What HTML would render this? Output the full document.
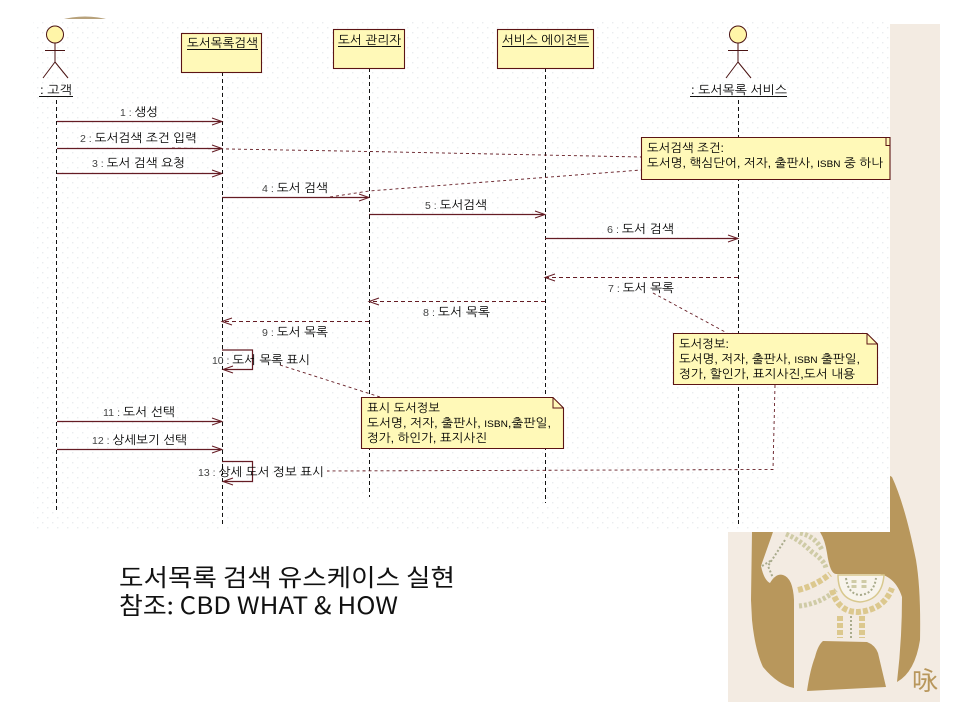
<!DOCTYPE html>
<html>
<head>
<meta charset="utf-8">
<style>
html,body{margin:0;padding:0;background:#fff;width:960px;height:720px;overflow:hidden}
svg{display:block}
text{font-family:"Liberation Sans","NanumGothic","Noto Sans CJK KR",sans-serif;fill:#000}
.l{font-size:12px}
.b{font-size:12px;fill:#000}
.n{fill:#444;font-size:10px}
.t{font-family:"Noto Sans CJK KR","Liberation Sans",sans-serif;font-size:24px;fill:#111;font-weight:400}
.life{stroke:#111;stroke-width:1;stroke-dasharray:4 3;fill:none}
.msg{stroke:#651c24;stroke-width:1.2;fill:none}
.ret{stroke:#651c24;stroke-width:1;stroke-dasharray:4 3;fill:none}
.link{stroke:#651c24;stroke-width:.9;stroke-dasharray:3 3;fill:none}
.ah{stroke:#651c24;stroke-width:1;fill:none}
.box{fill:#fff9b8;stroke:#5c1414;stroke-width:1.1}
.actor{stroke:#4a1212;stroke-width:1;fill:none}
.u{stroke:#111;stroke-width:1}
.band{fill:none;stroke:#cfcba6;stroke-width:5;stroke-dasharray:3 2}
.gold{fill:none;stroke:#dcc88e;stroke-width:6;stroke-dasharray:5 2}
.thin{fill:none;stroke:#a9ab8c;stroke-width:2;stroke-dasharray:2 2}
</style>
</head>
<body>
<svg width="960" height="720" viewBox="0 0 960 720" xmlns="http://www.w3.org/2000/svg">
<defs>
<pattern id="dots" width="10" height="10" patternUnits="userSpaceOnUse">
<rect x="2" y="2" width="1.4" height="1.4" fill="#e9ecef"/>
<rect x="7" y="7" width="1.4" height="1.4" fill="#e9ecef"/>
</pattern>
</defs>

<rect width="960" height="720" fill="#fff"/>
<!-- beige art panel -->
<rect x="728" y="24" width="212" height="678" fill="#f3ebe2"/>
<!-- brown backdrop -->
<path d="M752 532L751 600L752 620Q755 650 763 667Q778 685 794 688L897 688L897 682Q915 672 920 640Q921 590 916 560Q905 505 892 477L880 470L880 532Z" fill="#b8975c"/>
<!-- horse -->
<path d="M773 532L761 566Q764 580 770 583Q776 573 783 575Q793 578 794 600L794 702L900 702L897 682Q902 640 902 597Q896 578 880 574L836 574Q830 574 827 553Q825 540 820 532Z" fill="#f3ebe2"/>
<!-- base between the legs -->
<path d="M823 641L867 642Q875 645 878 653L886 687L807 691Q810 670 815 657Q818 645 823 641Z" fill="#b8975c"/>
<!-- decoration -->
<path class="band" d="M786 534Q800 540 812 552Q824 560 826 568"/>
<path class="band" d="M800 533Q815 536 822 550"/>
<path class="thin" d="M785 540L768 566L773 578"/>
<path class="thin" d="M762 566L772 560"/>
<path class="gold" d="M798 590Q815 586 830 574"/>
<path class="band" d="M799 606Q820 604 836 590"/>
<path class="gold" d="M832 590Q838 612 858 612Q884 610 892 588"/>
<path d="M838 575Q838 600 860 602Q882 600 884 575Z" fill="#f8f4ec" stroke="#d8c88e" stroke-width="1.500"/>
<path class="thin" d="M846 578Q848 594 860 595Q874 594 876 578"/>
<path class="band" d="M854 580V590M864 580V590"/>
<path class="gold" d="M840 616V638M862 616V638"/>
<path class="thin" d="M851 616V638"/>
<text x="912" y="690" font-size="26" style="fill:#b8975c;font-family:'Noto Sans CJK SC',sans-serif">咏</text>
<!-- brown arc at top-left -->
<path d="M60 20Q85 13 110 20Z" fill="#b8a27c"/>

<!-- diagram panel -->
<rect x="33" y="19" width="857" height="513" fill="#fff"/>
<rect x="33" y="19" width="857" height="513" fill="url(#dots)"/>

<!-- lifelines -->
<path class="life" d="M56.500 100V512"/>
<path class="life" d="M222.500 72V526"/>
<path class="life" d="M369.500 68V497"/>
<path class="life" d="M545.500 68V503"/>
<path class="life" d="M738.500 100V524"/>

<!-- objects -->
<rect class="box" x="181.500" y="33.500" width="80" height="39"/>
<rect class="box" x="333.500" y="29.500" width="71" height="39"/>
<rect class="box" x="497.500" y="29.500" width="96" height="39"/>
<text class="b" x="187" y="47" textLength="71" lengthAdjust="spacingAndGlyphs">도서목록검색</text>
<path class="u" d="M187 49.500H258"/>
<text class="b" x="338" y="44" textLength="63" lengthAdjust="spacingAndGlyphs">도서 관리자</text>
<path class="u" d="M338 46.500H401"/>
<text class="b" x="502" y="44" textLength="87" lengthAdjust="spacingAndGlyphs">서비스 에이전트</text>
<path class="u" d="M502 46.500H589"/>

<!-- actors -->
<g>
<circle cx="55" cy="34.500" r="8.500" fill="#fff5a8" stroke="#4a1212"/>
<path class="actor" d="M55 43V62M45 50.500H65M55 62L43 78M55 62L68 78"/>
<text class="b" x="40" y="94" textLength="32" lengthAdjust="spacingAndGlyphs">: 고객</text>
<path class="u" d="M39 96.500H73"/>
<circle cx="738" cy="34.500" r="8.500" fill="#fff5a8" stroke="#4a1212"/>
<path class="actor" d="M738 43V62M728 50.500H748M738 62L726 78M738 62L751 78"/>
<text class="b" x="691" y="94" textLength="96" lengthAdjust="spacingAndGlyphs">: 도서목록 서비스</text>
<path class="u" d="M690 96.500H787"/>
</g>

<!-- note links -->
<path class="link" d="M172 148L370 151.500L641 157"/>
<path class="link" d="M330 197L369 191L641 170"/>
<path class="link" d="M280 365L380 397"/>
<path class="link" d="M653 293L727 333"/>
<path class="link" d="M775 385L773 469.500L327 471"/>

<!-- messages -->
<path class="msg" d="M57 121.500H221"/><path class="ah" d="M212 118L222 121.500L212 125"/>
<path class="msg" d="M57 148.500H221"/><path class="ah" d="M212 145L222 148.500L212 152"/>
<path class="msg" d="M57 173.500H221"/><path class="ah" d="M212 170L222 173.500L212 177"/>
<path class="msg" d="M222 197.500H368"/><path class="ah" d="M359 194L369 197.500L359 201"/>
<path class="msg" d="M369 214.500H544"/><path class="ah" d="M535 211L545 214.500L535 218"/>
<path class="msg" d="M545 238.500H737"/><path class="ah" d="M728 235L738 238.500L728 242"/>
<path class="ret" d="M738 277.500H546"/><path class="ah" d="M555 274L545 277.500L555 281"/>
<path class="ret" d="M545 301.500H370"/><path class="ah" d="M379 298L369 301.500L379 305"/>
<path class="ret" d="M369 321.500H223"/><path class="ah" d="M232 318L222 321.500L232 325"/>
<path class="msg" d="M222 350H252.500V369.500H224"/><path class="ah" d="M233 366L223 369.500L233 373"/>
<path class="msg" d="M57 421.500H221"/><path class="ah" d="M212 418L222 421.500L212 425"/>
<path class="msg" d="M57 449.500H221"/><path class="ah" d="M212 446L222 449.500L212 453"/>
<path class="msg" d="M222 461.500H252.500V481.500H224"/><path class="ah" d="M233 478L223 481.500L233 485"/>

<!-- message labels -->
<text class="l" x="120" y="116" textLength="38" lengthAdjust="spacingAndGlyphs"><tspan class="n">1 : </tspan>생성</text>
<text class="l" x="80" y="142" textLength="117" lengthAdjust="spacingAndGlyphs"><tspan class="n">2 : </tspan>도서검색 조건 입력</text>
<text class="l" x="92" y="167" textLength="93" lengthAdjust="spacingAndGlyphs"><tspan class="n">3 : </tspan>도서 검색 요청</text>
<text class="l" x="262" y="192" textLength="66" lengthAdjust="spacingAndGlyphs"><tspan class="n">4 : </tspan>도서 검색</text>
<text class="l" x="425" y="209" textLength="62" lengthAdjust="spacingAndGlyphs"><tspan class="n">5 : </tspan>도서검색</text>
<text class="l" x="607" y="233" textLength="67" lengthAdjust="spacingAndGlyphs"><tspan class="n">6 : </tspan>도서 검색</text>
<text class="l" x="608" y="292" textLength="66" lengthAdjust="spacingAndGlyphs"><tspan class="n">7 : </tspan>도서 목록</text>
<text class="l" x="423" y="316" textLength="67" lengthAdjust="spacingAndGlyphs"><tspan class="n">8 : </tspan>도서 목록</text>
<text class="l" x="262" y="336" textLength="66" lengthAdjust="spacingAndGlyphs"><tspan class="n">9 : </tspan>도서 목록</text>
<text class="l" x="212" y="364" textLength="98" lengthAdjust="spacingAndGlyphs"><tspan class="n">10 : </tspan>도서 목록 표시</text>
<text class="l" x="103" y="416" textLength="72" lengthAdjust="spacingAndGlyphs"><tspan class="n">11 : </tspan>도서 선택</text>
<text class="l" x="92" y="444" textLength="95" lengthAdjust="spacingAndGlyphs"><tspan class="n">12 : </tspan>상세보기 선택</text>
<text class="l" x="198" y="476" textLength="126" lengthAdjust="spacingAndGlyphs"><tspan class="n">13 : </tspan>상세 도서 정보 표시</text>

<!-- notes -->
<path class="box" d="M641.500 137.500H890V179.500H641.500Z"/>
<path d="M886 137.500V145.500H890" fill="none" stroke="#5c1414"/>
<text class="l" x="647" y="152" textLength="77" lengthAdjust="spacingAndGlyphs">도서검색 조건:</text>
<text class="l" x="647" y="167" textLength="236" lengthAdjust="spacingAndGlyphs">도서명, 핵심단어, 저자, 출판사, <tspan font-size="9.500">ISBN</tspan> 중 하나</text>

<path class="box" d="M361.500 397.500H553L563.500 408V448.500H361.500Z"/>
<path d="M553 397.500V408H563.500" fill="none" stroke="#5c1414"/>
<text class="l" x="367" y="412" textLength="73" lengthAdjust="spacingAndGlyphs">표시 도서정보</text>
<text class="l" x="367" y="427" textLength="184" lengthAdjust="spacingAndGlyphs">도서명, 저자, 출판사, <tspan font-size="9.500">ISBN</tspan>,출판일,</text>
<text class="l" x="367" y="442" textLength="120" lengthAdjust="spacingAndGlyphs">정가, 하인가, 표지사진</text>

<path class="box" d="M673.500 333.500H867L877.500 344V384.500H673.500Z"/>
<path d="M867 333.500V344H877.500" fill="none" stroke="#5c1414"/>
<text class="l" x="679" y="348" textLength="50" lengthAdjust="spacingAndGlyphs">도서정보:</text>
<text class="l" x="679" y="363" textLength="181" lengthAdjust="spacingAndGlyphs">도서명, 저자, 출판사, <tspan font-size="9.500">ISBN</tspan> 출판일,</text>
<text class="l" x="679" y="378" textLength="176" lengthAdjust="spacingAndGlyphs">정가, 할인가, 표지사진,도서 내용</text>

<!-- caption -->
<text class="t" x="119" y="586" textLength="336" lengthAdjust="spacingAndGlyphs">도서목록 검색 유스케이스 실현</text>
<text class="t" x="119" y="614" textLength="279" lengthAdjust="spacingAndGlyphs">참조: CBD WHAT &amp; HOW</text>
</svg>
</body>
</html>
